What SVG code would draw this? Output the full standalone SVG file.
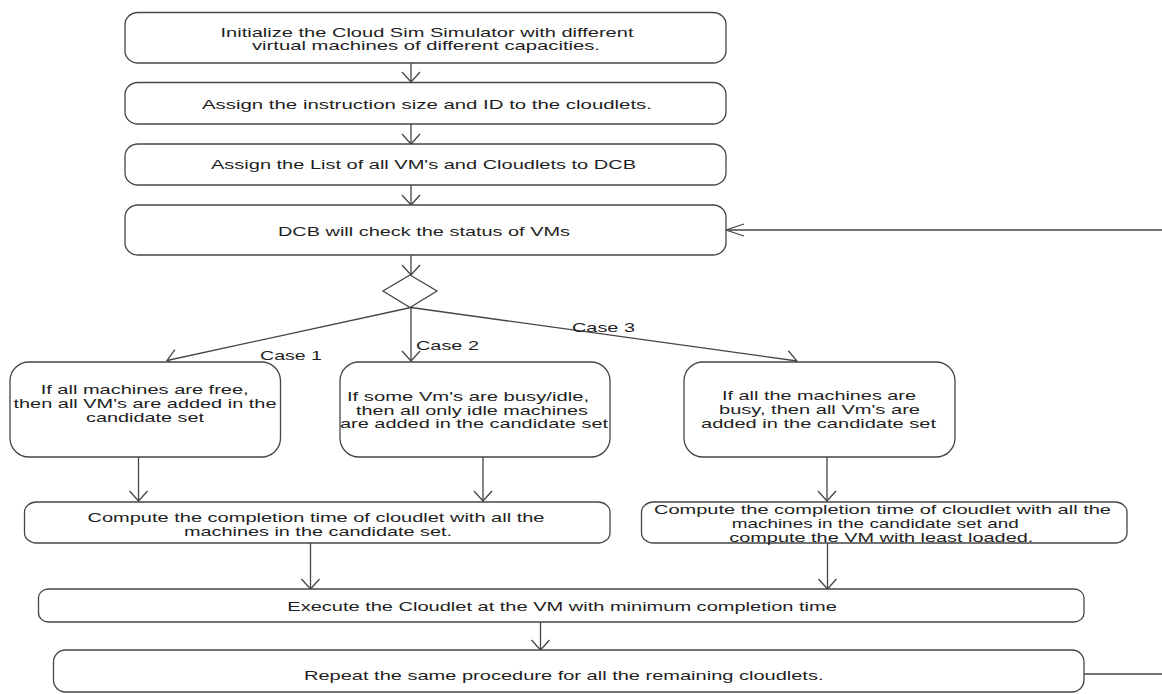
<svg xmlns="http://www.w3.org/2000/svg" width="1162" height="694" viewBox="0 0 1162 694">
<defs>
<style>
.box{fill:#fff;stroke:#454545;stroke-width:1.3}
.ln{fill:none;stroke:#454545;stroke-width:1.3}
.t{font-family:"Liberation Sans",Arial,sans-serif;font-size:13.5px;fill:#1e1e1e}
</style>
<marker id="av" markerUnits="userSpaceOnUse" viewBox="-12 -10 14 20" refX="0" refY="0" markerWidth="14" markerHeight="20" orient="auto" overflow="visible">
<path d="M-10,-9 L0,0 L-10,9" fill="none" stroke="#454545" stroke-width="1.3"/>
</marker>
<marker id="ah" markerUnits="userSpaceOnUse" viewBox="-20 -8 22 16" refX="0" refY="0" markerWidth="22" markerHeight="16" orient="auto" overflow="visible">
<path d="M-18,-6 L0,0 L-18,6" fill="none" stroke="#454545" stroke-width="1.3"/>
</marker>
</defs>
<rect width="1162" height="694" fill="#fff"/>

<g id="connectors">
<line class="ln" x1="411" y1="63" x2="411" y2="82" marker-end="url(#av)"/>
<line class="ln" x1="411" y1="124" x2="411" y2="144" marker-end="url(#av)"/>
<line class="ln" x1="411" y1="185" x2="411" y2="205" marker-end="url(#av)"/>
<line class="ln" x1="411" y1="255" x2="411" y2="275" marker-end="url(#av)"/>
<line class="ln" x1="411" y1="307.5" x2="167" y2="360.5" marker-end="url(#av)"/>
<line class="ln" x1="411" y1="307.5" x2="411" y2="361" marker-end="url(#av)"/>
<line class="ln" x1="411" y1="307.5" x2="797" y2="361" marker-end="url(#av)"/>
<line class="ln" x1="138.5" y1="457" x2="138.5" y2="501" marker-end="url(#av)"/>
<line class="ln" x1="483" y1="457" x2="483" y2="501" marker-end="url(#av)"/>
<line class="ln" x1="827" y1="457" x2="827" y2="501" marker-end="url(#av)"/>
<line class="ln" x1="310.5" y1="543" x2="310.5" y2="589" marker-end="url(#av)"/>
<line class="ln" x1="827.5" y1="543" x2="827.5" y2="589" marker-end="url(#av)"/>
<line class="ln" x1="540.5" y1="622" x2="540.5" y2="650" marker-end="url(#av)"/>
<line class="ln" x1="1084" y1="674" x2="1162" y2="674"/>
<line class="ln" x1="1162" y1="230" x2="726" y2="230" marker-end="url(#ah)"/>
<text class="t" x="260" y="360" textLength="62" lengthAdjust="spacingAndGlyphs">Case 1</text>
<text class="t" x="416" y="349.5" textLength="63" lengthAdjust="spacingAndGlyphs">Case 2</text>
<text class="t" x="572" y="332" textLength="63" lengthAdjust="spacingAndGlyphs">Case 3</text>
</g>

<g id="n1">
<rect class="box" x="125" y="12.5" width="601" height="50.5" rx="13" ry="12"/>
<text class="t" x="220.5" y="36.5" textLength="413" lengthAdjust="spacingAndGlyphs">Initialize the Cloud Sim Simulator with different</text>
<text class="t" x="252" y="49.8" textLength="348" lengthAdjust="spacingAndGlyphs">virtual machines of different capacities.</text>
</g>
<g id="n2">
<rect class="box" x="125" y="82.5" width="601" height="41.5" rx="13" ry="12"/>
<text class="t" x="202" y="108.8" textLength="450" lengthAdjust="spacingAndGlyphs">Assign the instruction size and ID to the cloudlets.</text>
</g>
<g id="n3">
<rect class="box" x="125" y="144" width="601" height="41" rx="13" ry="12"/>
<text class="t" x="211" y="169.2" textLength="425" lengthAdjust="spacingAndGlyphs">Assign the List of all VM's and Cloudlets to DCB</text>
</g>
<g id="n4">
<rect class="box" x="125" y="205" width="601" height="50" rx="13" ry="12"/>
<text class="t" x="278" y="235.5" textLength="292" lengthAdjust="spacingAndGlyphs">DCB will check the status of VMs</text>
</g>
<g id="decision">
<polygon class="box" points="410,275 437,291 410,307.5 383,291"/>
</g>
<g id="case1">
<rect class="box" x="10" y="362" width="270.5" height="95" rx="19" ry="19"/>
<text class="t" x="40.7" y="394.1" textLength="208" lengthAdjust="spacingAndGlyphs">If all machines are free,</text>
<text class="t" x="13.5" y="407.5" textLength="263" lengthAdjust="spacingAndGlyphs">then all VM's are added in the</text>
<text class="t" x="86" y="421.5" textLength="118" lengthAdjust="spacingAndGlyphs">candidate set</text>
</g>
<g id="case2">
<rect class="box" x="340" y="362" width="270" height="95" rx="19" ry="19"/>
<text class="t" x="347" y="400.8" textLength="242" lengthAdjust="spacingAndGlyphs">If some Vm's are busy/idle,</text>
<text class="t" x="356" y="414.8" textLength="232" lengthAdjust="spacingAndGlyphs">then all only idle machines</text>
<text class="t" x="340" y="427.8" textLength="268" lengthAdjust="spacingAndGlyphs">are added in the candidate set</text>
</g>
<g id="case3">
<rect class="box" x="684" y="362" width="271" height="95" rx="19" ry="19"/>
<text class="t" x="722" y="399.8" textLength="194" lengthAdjust="spacingAndGlyphs">If all the machines are</text>
<text class="t" x="719" y="413.8" textLength="201" lengthAdjust="spacingAndGlyphs">busy, then all Vm's are</text>
<text class="t" x="701" y="427.8" textLength="235" lengthAdjust="spacingAndGlyphs">added in the candidate set</text>
</g>
<g id="compute1">
<rect class="box" x="24.5" y="502" width="585.5" height="41" rx="12" ry="10"/>
<text class="t" x="87.5" y="521.5" textLength="457" lengthAdjust="spacingAndGlyphs">Compute the completion time of cloudlet with all the</text>
<text class="t" x="184" y="535.5" textLength="268" lengthAdjust="spacingAndGlyphs">machines in the candidate set.</text>
</g>
<g id="compute2">
<rect class="box" x="641.5" y="502" width="485.5" height="41" rx="12" ry="10"/>
<text class="t" x="654" y="514.1" textLength="457" lengthAdjust="spacingAndGlyphs">Compute the completion time of cloudlet with all the</text>
<text class="t" x="731.7" y="528.1" textLength="287" lengthAdjust="spacingAndGlyphs">machines in the candidate set and</text>
<text class="t" x="729.3" y="542" textLength="304" lengthAdjust="spacingAndGlyphs">compute the VM with least loaded.</text>
</g>
<g id="execute">
<rect class="box" x="38.5" y="589" width="1045.5" height="33" rx="10" ry="9"/>
<text class="t" x="287.3" y="610.8" textLength="549.5" lengthAdjust="spacingAndGlyphs">Execute the Cloudlet at the VM with minimum completion time</text>
</g>
<g id="repeat">
<rect class="box" x="53.5" y="650" width="1030.5" height="42" rx="12" ry="12"/>
<text class="t" x="304" y="679.8" textLength="519.5" lengthAdjust="spacingAndGlyphs">Repeat the same procedure for all the remaining cloudlets.</text>
</g>
</svg>
